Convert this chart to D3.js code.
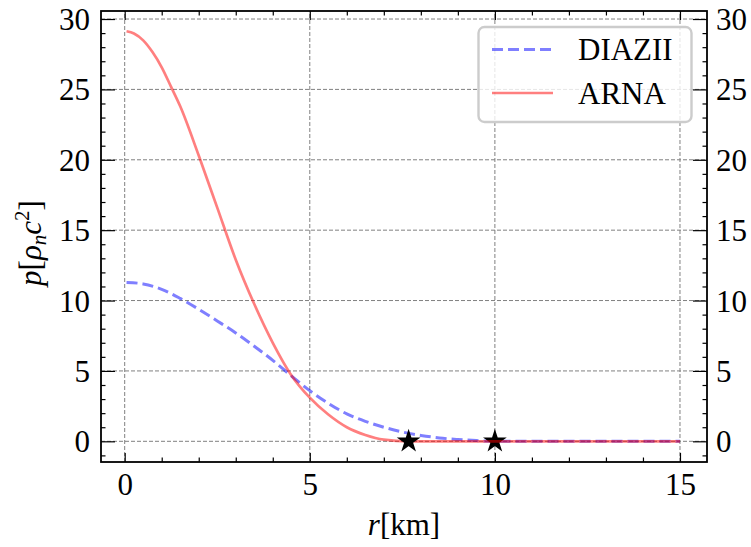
<!DOCTYPE html>
<html>
<head>
<meta charset="utf-8">
<script src="https://cdn.jsdelivr.net/npm/d3@7"></script>
<style>
  html, body { margin: 0; padding: 0; background: #fff; }
  svg { display: block; }
</style>
</head>
<body>
<svg id="chart" width="751" height="547"></svg>
<script>
// ---- data ----
const arnaR = [0.05, 0.25, 0.5, 0.75, 1.0, 1.25, 1.5, 2.0, 2.5, 3.0, 3.5, 4.0, 4.5, 5.0, 5.5, 6.0, 6.5, 7.0, 7.67, 8, 9, 10, 11, 12, 13, 14, 15];
const arnaP = [29.13, 28.97, 28.48, 27.65, 26.57, 25.2, 23.8, 20.3, 16.6, 12.9, 9.75, 7.0, 4.7, 3.1, 1.9, 1.0, 0.45, 0.12, 0, 0, 0, 0, 0, 0, 0, 0, 0];
const diazR = [0.05, 0.5, 1.0, 1.5, 2.0, 2.5, 3.0, 3.5, 4.0, 4.5, 5.0, 5.5, 6.0, 6.5, 7.0, 7.5, 8.0, 8.5, 9.0, 9.5, 10, 11, 12, 13, 14, 15];
const diazP = [11.29, 11.18, 10.8, 10.15, 9.38, 8.55, 7.7, 6.75, 5.75, 4.65, 3.6, 2.7, 1.95, 1.42, 1.0, 0.66, 0.42, 0.24, 0.13, 0.05, 0, 0, 0, 0, 0, 0];
const starsR = [10, 7.67];   // DIAZII surface, ARNA surface
const starsP = [0, 0];
const xTicks = [0, 5, 10, 15];
const yTicks = [0, 5, 10, 15, 20, 25, 30];
const seriesNames = ["DIAZII", "ARNA"];

const FONT = '"Liberation Serif", "Times New Roman", serif';

// ---- layout ----
const svg = d3.select("#chart");
const L = 101, R = 707, T = 11, B = 462;
const x = d3.scaleLinear().domain([-0.64, 15.73]).range([L, R]);
const y = d3.scaleLinear().domain([-1.47, 30.57]).range([B, T]);

// grid
const grid = svg.append("g");
xTicks.forEach(v => grid.append("line")
  .attr("x1", x(v)).attr("x2", x(v)).attr("y1", B).attr("y2", T)
  .attr("stroke", "#808080").attr("stroke-width", 1).attr("stroke-dasharray", "4,2"));
yTicks.forEach(v => grid.append("line")
  .attr("x1", L).attr("x2", R).attr("y1", y(v)).attr("y2", y(v))
  .attr("stroke", "#808080").attr("stroke-width", 1).attr("stroke-dasharray", "4,2"));

// lines
const line = d3.line().x(d => x(d[0])).y(d => y(d[1])).curve(d3.curveMonotoneX);
const diaz = diazR.map((r, i) => [r, diazP[i]]);
const arna = arnaR.map((r, i) => [r, arnaP[i]]);
const star = d3.symbol().type(d3.symbolStar).size(110);

svg.append("path").datum(diaz).attr("d", line)
  .attr("fill", "none").attr("stroke", "blue").attr("stroke-opacity", 0.5)
  .attr("stroke-width", 3).attr("stroke-dasharray", "11,5");
svg.append("path").attr("d", star)
  .attr("transform", `translate(${x(starsR[0])},${y(starsP[0])})`)
  .attr("fill", "#000").attr("stroke", "#000").attr("stroke-width", 1.6).attr("stroke-linejoin", "miter");
svg.append("path").datum(arna).attr("d", line)
  .attr("fill", "none").attr("stroke", "red").attr("stroke-opacity", 0.5)
  .attr("stroke-width", 2.7);
svg.append("path").attr("d", star)
  .attr("transform", `translate(${x(starsR[1])},${y(starsP[1])})`)
  .attr("fill", "#000").attr("stroke", "#000").attr("stroke-width", 1.6).attr("stroke-linejoin", "miter");

// axes (ticks inward)
const fs = 31;
function addAxis(axisFn, scale, tr, ticks, minor, majLen, showLabels) {
  const g = svg.append("g").attr("transform", tr);
  g.call(axisFn(scale).tickValues(minor).tickSize(-4.5).tickFormat(""));
  const g2 = svg.append("g").attr("transform", tr);
  g2.call(axisFn(scale).tickValues(ticks).tickSize(-majLen).tickPadding(majLen + 8).tickFormat(showLabels ? d3.format("d") : ""));
  [g, g2].forEach(gg => {
    gg.attr("font-family", null).attr("font-size", null);
    gg.select(".domain").remove();
    gg.selectAll(".tick line").attr("stroke", "#000").attr("stroke-width", 1.2);
    gg.selectAll("text").style("font-size", fs + "px").style("font-family", FONT).attr("fill", "#000");
  });
  return g2;
}
const xMinor = d3.range(0, 16, 1).filter(v => v % 5 !== 0);
const yMinor = d3.range(-1, 31, 1).filter(v => v % 5 !== 0);
const gb = addAxis(d3.axisBottom, x, `translate(0,${B})`, xTicks, xMinor, 9, true);
gb.selectAll("text").attr("dy", null).attr("y", 33);
addAxis(d3.axisTop, x, `translate(0,${T})`, xTicks, xMinor, 9, false);
const gl = addAxis(d3.axisLeft, y, `translate(${L},0)`, yTicks, yMinor, 14, true);
gl.selectAll("text").attr("x", -11).attr("dy", "0.34em");
const gr = addAxis(d3.axisRight, y, `translate(${R},0)`, yTicks, yMinor, 14, true);
gr.selectAll("text").attr("x", 9).attr("dy", "0.34em");

// frame
svg.append("rect").attr("x", L).attr("y", T).attr("width", R - L).attr("height", B - T)
  .attr("fill", "none").attr("stroke", "#000").attr("stroke-width", 1.8);

// axis labels
const xl = svg.append("text").attr("x", 404).attr("y", 535).attr("text-anchor", "middle")
  .style("font-size", fs + "px").style("font-family", FONT);
xl.append("tspan").attr("font-style", "italic").text("r");
xl.append("tspan").text("[km]");

const yl = svg.append("text").attr("transform", "translate(41,243) rotate(-90)")
  .attr("text-anchor", "middle").style("font-size", fs + "px").style("font-family", FONT);
yl.append("tspan").attr("font-style", "italic").text("p");
yl.append("tspan").text("[");
yl.append("tspan").attr("font-style", "italic").text("ρ");
yl.append("tspan").attr("font-style", "italic").style("font-size", "21px").attr("dy", 5).text("n");
yl.append("tspan").attr("font-style", "italic").attr("dy", -5).text("c");
yl.append("tspan").style("font-size", "21px").attr("dy", -12).text("2");
yl.append("tspan").attr("dy", 12).text("]");

// legend
const lg = svg.append("g");
lg.append("rect").attr("x", 478.5).attr("y", 27).attr("width", 213).attr("height", 95).attr("rx", 6)
  .attr("fill", "#fff").attr("fill-opacity", 0.8).attr("stroke", "#cccccc").attr("stroke-width", 2.4);
lg.append("line").attr("x1", 492).attr("x2", 553).attr("y1", 49.5).attr("y2", 49.5)
  .attr("stroke", "blue").attr("stroke-opacity", 0.5).attr("stroke-width", 3).attr("stroke-dasharray", "11,5");
lg.append("line").attr("x1", 492).attr("x2", 553).attr("y1", 93).attr("y2", 93)
  .attr("stroke", "red").attr("stroke-opacity", 0.5).attr("stroke-width", 2.7);
lg.append("text").attr("x", 578).attr("y", 60).style("font-size", fs + "px").style("font-family", FONT).text(seriesNames[0]);
lg.append("text").attr("x", 578).attr("y", 104).style("font-size", fs + "px").style("font-family", FONT).text(seriesNames[1]);
</script>
</body>
</html>
